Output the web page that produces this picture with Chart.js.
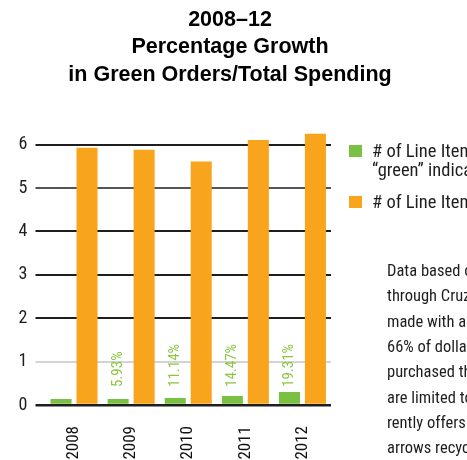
<!DOCTYPE html>
<html>
<head>
<meta charset="utf-8">
<title>Green Orders / Total Spending</title>
<script src="https://cdn.jsdelivr.net/npm/chart.js@4.4.1/dist/chart.umd.min.js"></script>
<style>
  html, body { margin: 0; padding: 0; background: #fff; overflow: hidden; }
  #wrap { position: relative; width: 467px; height: 460px; }
</style>
</head>
<body>
<div id="wrap"><canvas id="myChart" width="467" height="460"></canvas></div>
<script>
// Years along the x axis
const years = ["2008", "2009", "2010", "2011", "2012"];
// Line items flagged "green" (left bar of each year)
const greenItems = [0.14, 0.14, 0.16, 0.21, 0.30];
// All line items (right bar of each year)
const totalItems = [5.93, 5.88, 5.61, 6.11, 6.25];
// Growth labels printed above the green bars
const growthLabels = ["", "5.93%", "11.14%", "14.47%", "19.31%"];
// Y axis tick values
const yTicks = [0, 1, 2, 3, 4, 5, 6];

const titleLines = ["2008\u201312", "Percentage Growth", "in Green Orders/Total Spending"];
const legendNames = [
  ["# of Line Items with", "\u201cgreen\u201d indicator"],
  ["# of Line Items"]
];
const noteLines = [
  "Data based on orders",
  "through CruzBuy",
  "made with a",
  "66% of dollars",
  "purchased the",
  "are limited to",
  "rently offers",
  "arrows recycled"
];

const narrow = '"Roboto Condensed", "DejaVu Sans Condensed", Roboto, sans-serif';

// Three-line heading, centred over the page rather than the plot
const headingPlugin = {
  id: "heading",
  afterDraw(chart) {
    const { ctx } = chart;
    ctx.save();
    ctx.fillStyle = "#000";
    ctx.font = 'bold 21.5px "Liberation Sans", Arial, sans-serif';
    ctx.textAlign = "center";
    ctx.textBaseline = "middle";
    titleLines.forEach((line, i) => {
      ctx.fillText(line, 230, 20 + i * 27.5);
    });
    ctx.restore();
  }
};

// Rotated percentage labels over the green bars, all starting at the same height
const growthLabelPlugin = {
  id: "growthLabels",
  afterDatasetsDraw(chart) {
    const { ctx } = chart;
    const meta = chart.getDatasetMeta(0);
    const baseY = chart.scales.y.bottom - 18;
    ctx.save();
    ctx.fillStyle = "#8cc63f";
    ctx.font = "15px " + narrow;
    ctx.textAlign = "left";
    ctx.textBaseline = "middle";
    meta.data.forEach((bar, i) => {
      const text = growthLabels[i];
      if (!text) return;
      ctx.save();
      ctx.translate(bar.x, Math.min(baseY, bar.y - 5));
      ctx.rotate(-Math.PI / 2);
      ctx.fillText(text, 0, 0);
      ctx.restore();
    });
    ctx.restore();
  }
};

// Legend and side note on the right
const sidePanelPlugin = {
  id: "sidePanel",
  afterDraw(chart) {
    const { ctx } = chart;
    ctx.save();
    ctx.textAlign = "left";
    ctx.textBaseline = "alphabetic";
    ctx.font = "18.5px " + narrow;
    const legendTops = [145, 196];
    chart.data.datasets.forEach((ds, i) => {
      const top = legendTops[i];
      ctx.fillStyle = ds.backgroundColor;
      ctx.fillRect(349, top, 13, 12);
      ctx.fillStyle = "#1e1e1e";
      legendNames[i].forEach((line, j) => {
        ctx.fillText(line, 372, top + 12 + j * 19);
      });
    });
    ctx.font = "16.5px " + narrow;
    noteLines.forEach((line, j) => {
      ctx.fillText(line, 387, 276 + j * 25.3);
    });
    ctx.restore();
  }
};

function gridColor(c) {
  const v = c.tick ? c.tick.value : null;
  if (v === 1) return "#d4d4d4";
  if (v === 5) return "#555";
  return "#1e1e1e";
}

const ctx = document.getElementById("myChart").getContext("2d");
new Chart(ctx, {
  type: "bar",
  data: {
    labels: years,
    datasets: [
      {
        label: "green",
        data: greenItems,
        backgroundColor: "#7ac143",
        categoryPercentage: 0.91,
        barPercentage: 0.81
      },
      {
        label: "total",
        data: totalItems,
        backgroundColor: "#f8a51d",
        categoryPercentage: 0.91,
        barPercentage: 0.81
      }
    ]
  },
  options: {
    responsive: false,
    animation: false,
    layout: {
      padding: { left: 10.6, right: 136, top: 127.3, bottom: 0 }
    },
    plugins: {
      legend: { display: false },
      tooltip: { enabled: false },
      title: { display: false }
    },
    scales: {
      x: {
        grid: { display: false, drawTicks: false },
        border: { display: false },
        afterFit(scale) {
          scale.height = 55;
        },
        ticks: {
          color: "#111",
          font: { family: narrow, size: 17 },
          maxRotation: 90,
          minRotation: 90,
          padding: 21
        }
      },
      y: {
        min: 0,
        max: 6.4,
        afterBuildTicks(scale) {
          scale.ticks = yTicks.map(v => ({ value: v }));
        },
        border: { display: false },
        grid: {
          color: gridColor,
          lineWidth: c => (c.tick && c.tick.value === 0 ? 2.5 : 2),
          tickLength: 10,
          drawTicks: true
        },
        ticks: {
          color: "#1e1e1e",
          font: { family: narrow, size: 18 },
          padding: 8
        }
      }
    }
  },
  plugins: [headingPlugin, growthLabelPlugin, sidePanelPlugin]
});
</script>
</body>
</html>
